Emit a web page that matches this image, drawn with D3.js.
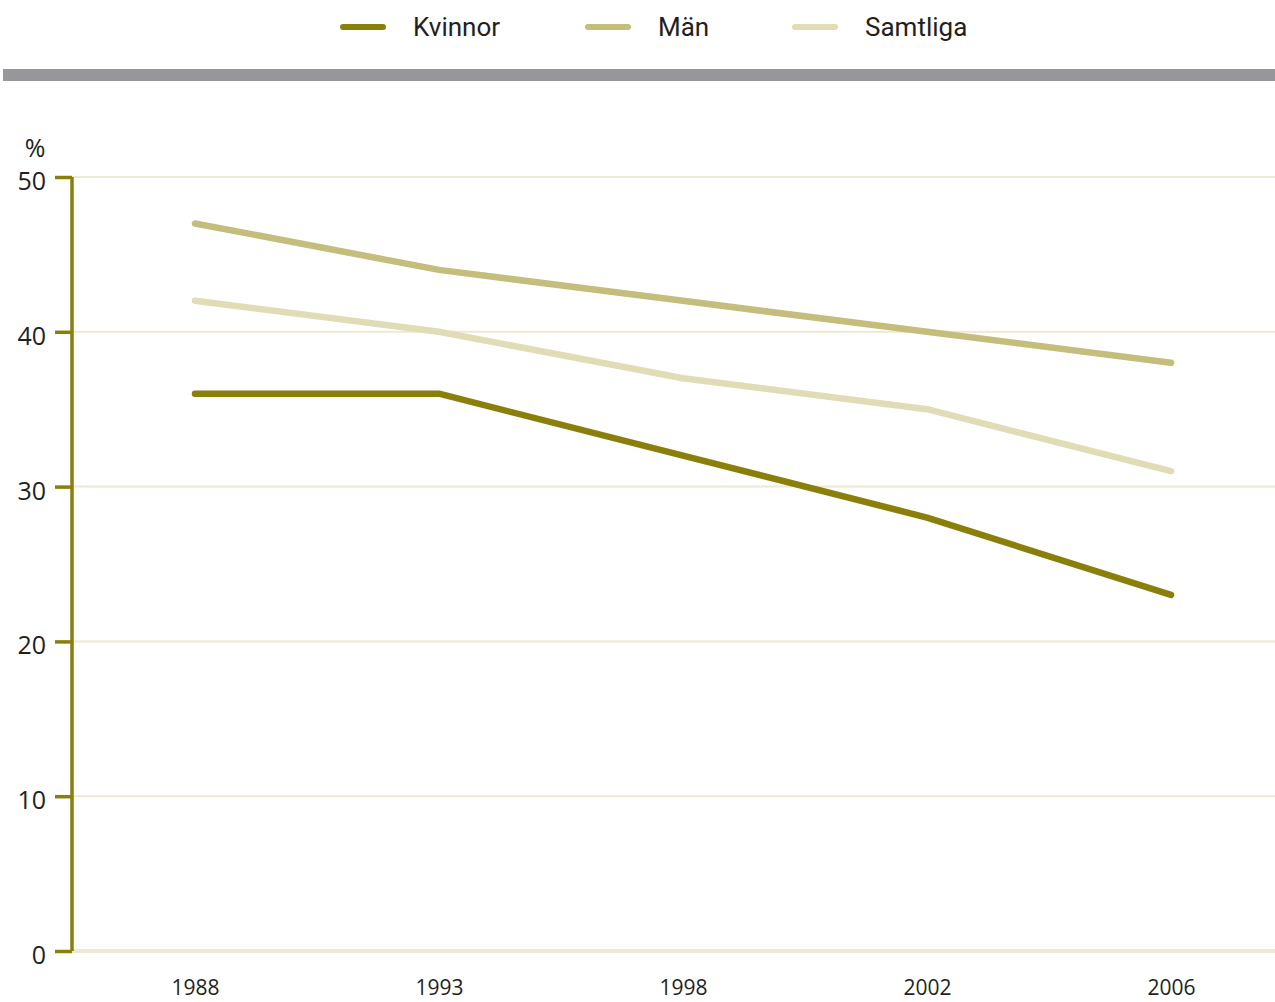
<!DOCTYPE html>
<html>
<head>
<meta charset="utf-8">
<script src="https://cdn.jsdelivr.net/npm/d3@7"></script>
<style>
  body { margin: 0; background: #fff; }
  svg text { fill: #231f20; }
</style>
</head>
<body>
<div id="chart"></div>
<script>
// data
var years = ["1988", "1993", "1998", "2002", "2006"];
var kvinnor = [36, 36, 32, 28, 23];
var man = [47, 44, 42, 40, 38];
var samtliga = [42, 40, 37, 35, 31];
var seriesNames = ["Kvinnor", "Män", "Samtliga"];
var seriesColors = ["#8a7f0a", "#c4bd7c", "#e0dcb5"];
var yTicks = [0, 10, 20, 30, 40, 50];

var W = 1275, H = 1002;
var margin = { top: 177, right: 0, bottom: 51, left: 72 },
    width = W - margin.left - margin.right,
    height = H - margin.top - margin.bottom;

var svg = d3.select("#chart")
    .append("svg")
    .attr("width", W)
    .attr("height", H);

// legend
var legend = svg.append("g").attr("class", "legend");
var legX = [343, 588, 795];
seriesNames.forEach(function (name, i) {
    legend.append("line")
        .attr("x1", legX[i]).attr("x2", legX[i] + 40)
        .attr("y1", 27).attr("y2", 27)
        .attr("stroke", seriesColors[i])
        .attr("stroke-width", 6)
        .attr("stroke-linecap", "round");
    legend.append("text")
        .attr("x", legX[i] + 70)
        .attr("y", 27)
        .attr("dy", "0.35em")
        .style("font-family", "'Liberation Sans Narrow', Roboto, sans-serif")
        .style("font-size", "26px")
        .text(name);
});

// grey band
svg.append("rect")
    .attr("x", 3).attr("y", 69)
    .attr("width", W - 3).attr("height", 12)
    .attr("fill", "#97979b");

var g = svg.append("g")
    .attr("transform", "translate(" + margin.left + "," + margin.top + ")");

var x = d3.scalePoint()
    .domain(years)
    .range([123, 1099]);

var y = d3.scaleLinear()
    .domain([0, 50])
    .range([height, 0]);

// gridlines
g.append("g")
    .selectAll("line")
    .data(yTicks)
    .enter()
    .append("line")
    .attr("x1", 0).attr("x2", width)
    .attr("y1", d => y(d)).attr("y2", d => y(d))
    .attr("stroke", "#ede9d3")
    .attr("stroke-width", function (d) { return d == 0 ? 4 : 2; });

// y axis
var yAxis = g.append("g")
    .call(d3.axisLeft(y).tickValues(yTicks).tickSize(17).tickPadding(9));
yAxis.select(".domain")
    .attr("stroke", "#8a7f0a")
    .attr("stroke-width", 3.5)
    .attr("d", "M0," + y(0) + "V" + y(50));
yAxis.selectAll(".tick line")
    .attr("stroke", "#8a7f0a")
    .attr("stroke-width", 3.5);
yAxis.selectAll(".tick text")
    .attr("fill", "#231f20")
    .style("font-family", "'Open Sans', sans-serif")
    .style("font-size", "25px")
    .attr("dy", "0.5em");

g.append("text")
    .attr("x", -37)
    .attr("y", -20)
    .attr("text-anchor", "middle")
    .style("font-family", "'Open Sans', sans-serif")
    .style("font-size", "25px")
    .text("%");

// x axis labels
var xAxis = g.append("g")
    .attr("transform", "translate(0," + height + ")")
    .call(d3.axisBottom(x).tickSize(0).tickPadding(29));
xAxis.select(".domain").remove();
xAxis.selectAll(".tick text")
    .attr("fill", "#231f20")
    .style("font-family", "'Open Sans', sans-serif")
    .style("font-size", "21px");

// lines
var allSeries = [man, samtliga, kvinnor];
var allColors = [seriesColors[1], seriesColors[2], seriesColors[0]];
var line = d3.line()
    .x(function (d, i) { return x(years[i]); })
    .y(function (d) { return y(d); });

g.selectAll(".series")
    .data(allSeries)
    .enter()
    .append("path")
    .attr("class", "series")
    .attr("d", line)
    .attr("fill", "none")
    .attr("stroke", function (d, i) { return allColors[i]; })
    .attr("stroke-width", 6.5)
    .attr("stroke-linecap", "round")
    .attr("stroke-linejoin", "round");
</script>
</body>
</html>
